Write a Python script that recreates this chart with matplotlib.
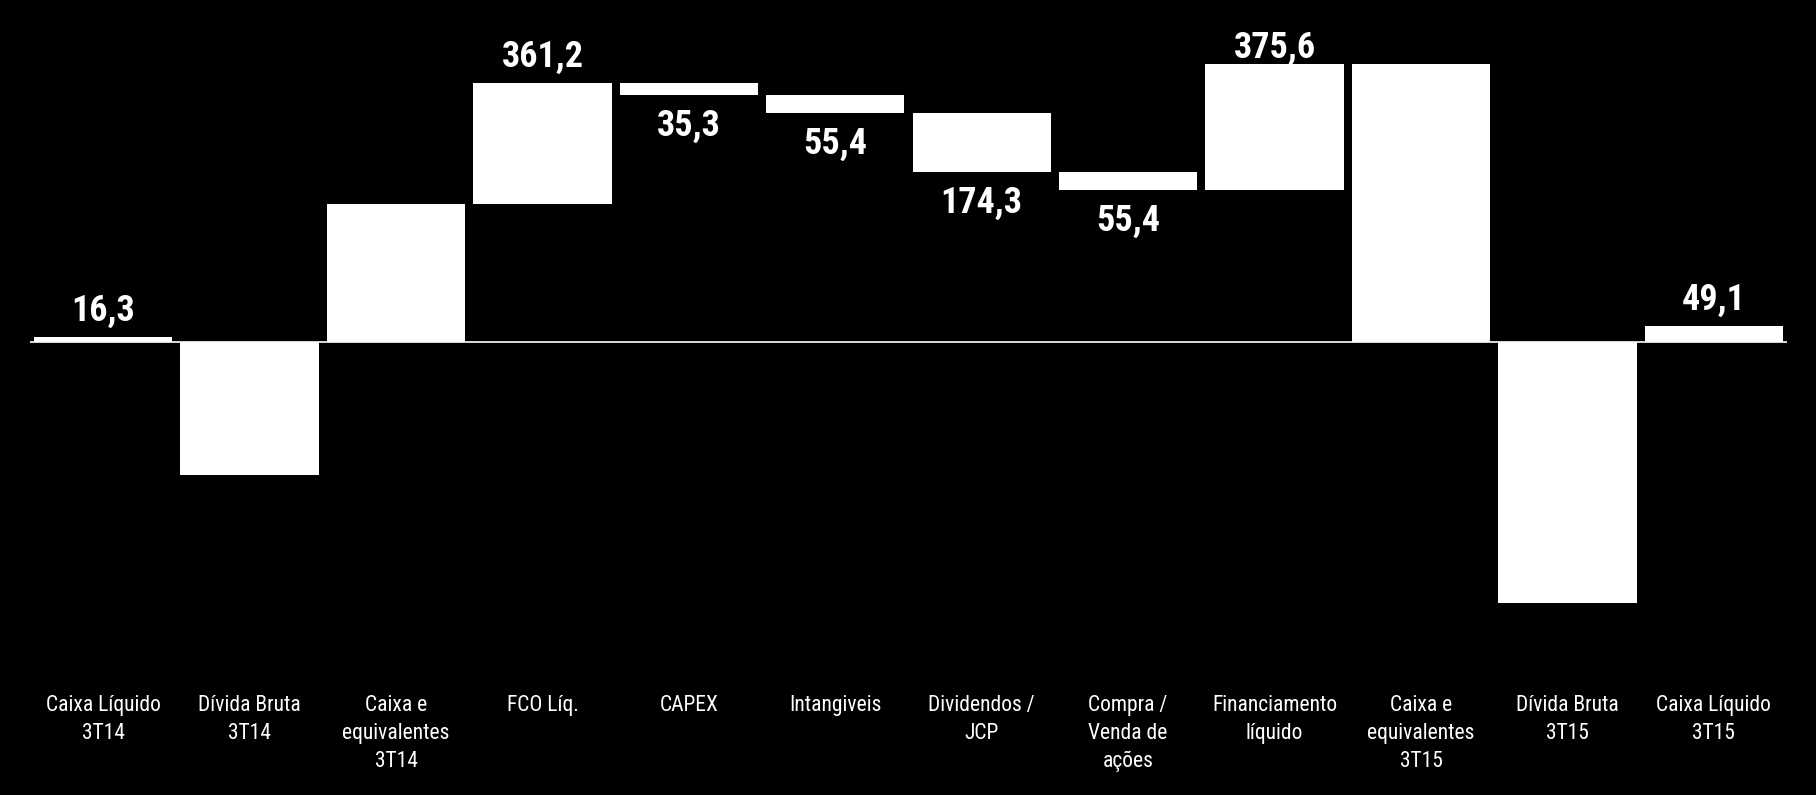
import matplotlib
matplotlib.use("Agg")
import matplotlib.pyplot as plt
from matplotlib import font_manager
import numpy as np

categories = ["Caixa Líquido\n3T14", "Dívida Bruta\n3T14", "Caixa e\nequivalentes\n3T14",
              "FCO Líq.", "CAPEX", "Intangiveis", "Dividendos /\nJCP",
              "Compra /\nVenda de\nações", "Financiamento\nlíquido",
              "Caixa e\nequivalentes\n3T15", "Dívida Bruta\n3T15", "Caixa Líquido\n3T15"]
values = [16.3, -396.0, 412.3, 361.2, -35.3, -55.4, -174.3, -55.4, 375.6, 828.7, -779.6, 49.1]
# True = bar hangs from the running total, False = bar starts at zero
floating = [False, False, False, True, True, True, True, True, True, False, False, False]
show_label = [True, False, False, True, True, True, True, True, True, False, False, True]

# look for a narrow face, like the Arial Narrow of the original
fonts = font_manager.fontManager.ttflist
names = set(f.name for f in fonts)
family = None
for cand in ["Liberation Sans Narrow", "Arial Narrow", "Roboto Condensed", "Open Sans Condensed",
             "Noto Sans Condensed", "DejaVu Sans Condensed"]:
    if cand in names:
        family = cand
        break
stretch = "normal"
if family is None:
    cond = [f for f in fonts if f.stretch in ("condensed", "semi-condensed", 700, 600)
            or "Condensed" in f.fname or "Narrow" in f.fname]
    if cond:
        family = cond[0].name
        stretch = "condensed"
    else:
        family = "Liberation Sans"

plt.rcParams['font.family'] = [family, 'DejaVu Sans']
plt.rcParams['font.stretch'] = stretch

fig = plt.figure(figsize=(18.16, 7.95), dpi=100, facecolor="black")
ax = fig.add_axes([30 / 1816, 115 / 795, 1757 / 1816, 650 / 795])
ax.set_facecolor("black")

bottoms = []
tops = []
running = 0.0
for v, fl in zip(values, floating):
    start = running if fl else 0.0
    end = start + v
    bottoms.append(min(start, end))
    tops.append(max(start, end))
    running = end

px = 2.985  # value units per pixel
ymin, ymax = -(680 - 342) * px, (342 - 30) * px

x = np.arange(len(categories))
heights = [t - b for t, b in zip(tops, bottoms)]
ax.bar(x, heights, bottom=bottoms, width=0.945, color="white", edgecolor="none")
ax.axhline(0, color="white", lw=1.2)

for i, v in enumerate(values):
    if not show_label[i]:
        continue
    txt = ("%.1f" % abs(v)).replace(".", ",")
    if v >= 0:
        y = min(tops[i] + 16 * px, ymax - 28 * px)
        ax.text(x[i], y, txt, ha="center", va="baseline", color="white",
                fontsize=26, fontweight="bold")
    else:
        y = bottoms[i] - 13 * px
        ax.text(x[i], y, txt, ha="center", va="top", color="white",
                fontsize=26, fontweight="bold")

ax.set_ylim(ymin, ymax)
ax.set_xlim(-0.5, len(categories) - 0.5)
ax.set_xticks(x)
ax.set_xticklabels(categories, color="white", fontsize=15.5, linespacing=1.42)
ax.tick_params(axis="x", length=0, pad=11)
ax.set_yticks([])
for s in ax.spines.values():
    s.set_visible(False)

fig.savefig("out.png", dpi=100, facecolor="black")
